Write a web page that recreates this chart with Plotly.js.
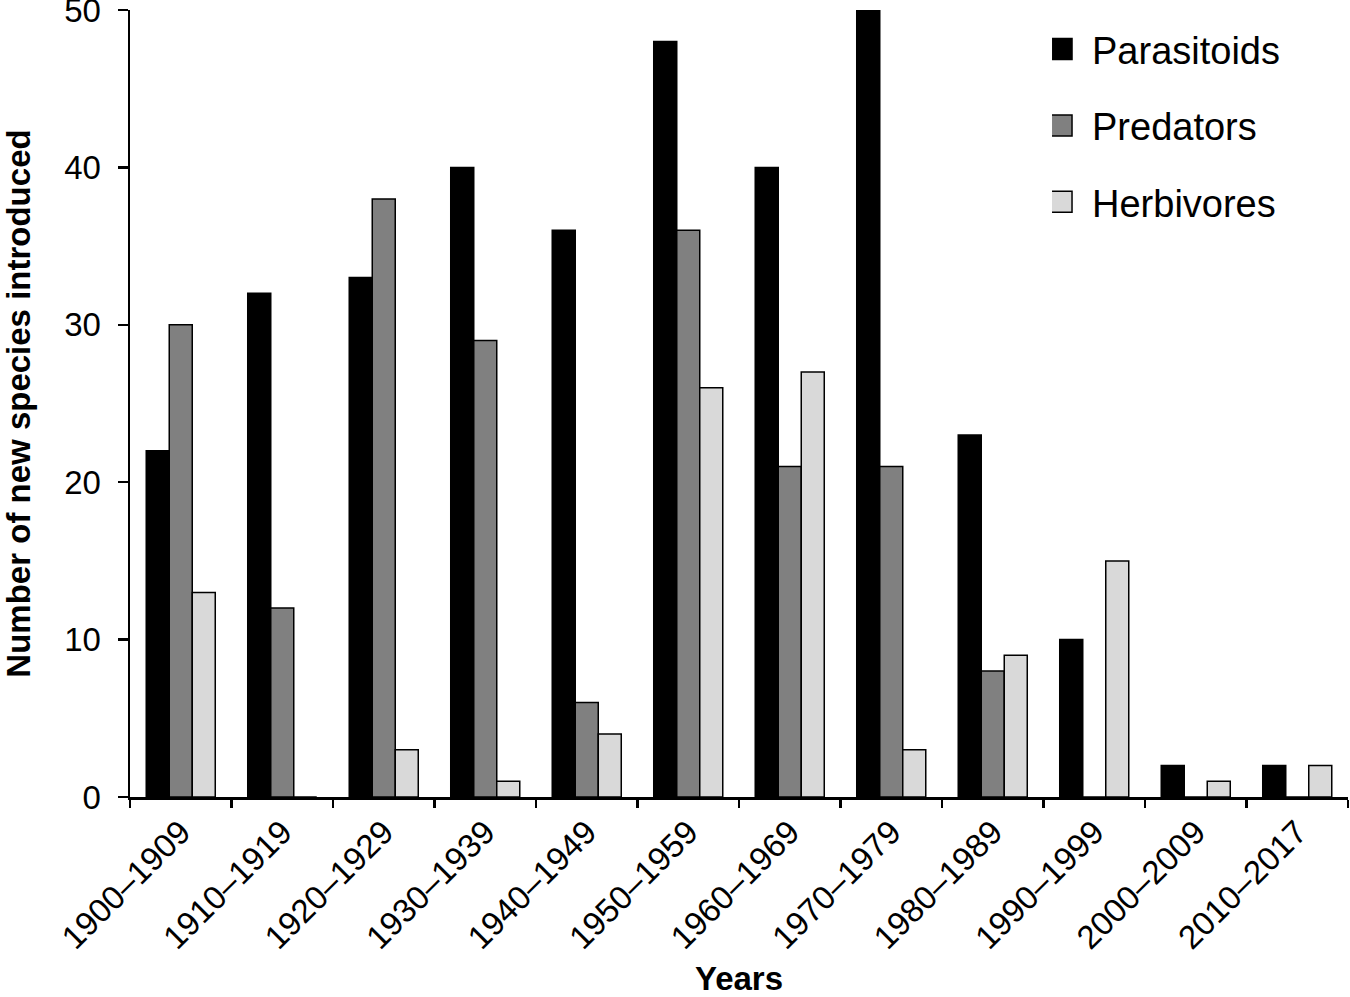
<!DOCTYPE html>
<html>
<head>
<meta charset="utf-8">
<script src="https://cdn.plot.ly/plotly-3.0.1.min.js"></script>
<style>html,body{margin:0;padding:0;background:#fff;}#chart{width:1350px;height:997px;}</style>
</head>
<body>
<div id="chart"></div>
<script>
const categories = ["1900–1909","1910–1919","1920–1929","1930–1939","1940–1949","1950–1959","1960–1969","1970–1979","1980–1989","1990–1999","2000–2009","2010–2017"];
const parasitoids = [22, 32, 33, 40, 36, 48, 40, 50, 23, 10, 2, 2];
const predators   = [30, 12, 38, 29, 6, 36, 21, 21, 8, 0, 0, 0];
const herbivores  = [13, 0, 3, 1, 4, 26, 27, 3, 9, 15, 1, 2];
const yTicks = [0, 10, 20, 30, 40, 50];

const FONT = "Liberation Sans, Arial, Helvetica, sans-serif";
const outline = {color: "#000", width: 1.5};

const traces = [
  {type: "bar", name: "Parasitoids", x: categories, y: parasitoids, legendgroup: "a",
   marker: {color: "#000000", line: outline}},
  {type: "bar", name: "Predators", x: categories, y: predators, legendgroup: "b",
   marker: {color: "#808080", line: outline}},
  {type: "bar", name: "Herbivores", x: categories, y: herbivores, legendgroup: "c",
   marker: {color: "#d9d9d9", line: outline}}
];

const layout = {
  width: 1350, height: 997,
  margin: {l: 130, r: 2, t: 10, b: 200, pad: 0},
  paper_bgcolor: "#fff", plot_bgcolor: "#fff",
  font: {family: FONT, color: "#000", size: 30},
  barmode: "group", bargap: 0.32, bargroupgap: 0,
  showlegend: true,
  legend: {
    x: 0.757, xanchor: "left", y: 0.99, yanchor: "top",
    font: {family: FONT, size: 38, color: "#000"},
    bgcolor: "rgba(0,0,0,0)", borderwidth: 0,
    traceorder: "grouped", tracegroupgap: 24, itemwidth: 30
  },
  xaxis: {
    type: "category", tickson: "boundaries",
    showline: true, linecolor: "#000", linewidth: 2.5,
    ticks: "outside", ticklen: 8, tickwidth: 2.5, tickcolor: "#000",
    tickangle: -45, tickfont: {family: FONT, size: 33, color: "#000"},
    showgrid: false, zeroline: false,
    title: {text: "<b>Years</b>", font: {family: FONT, size: 33, color: "#000"}, standoff: 26},
    automargin: false
  },
  yaxis: {
    range: [0, 50], tickvals: yTicks, ticktext: yTicks.map(String),
    showline: true, linecolor: "#000", linewidth: 2.5,
    ticks: "outside", ticklen: 10, tickwidth: 2.5, tickcolor: "#000",
    tickfont: {family: FONT, size: 33, color: "#000"},
    ticklabelstandoff: 10, ticklabeloverflow: "allow",
    showgrid: false, zeroline: false,
    title: {text: "<b>Number of new species introduced</b>", font: {family: FONT, size: 33, color: "#000"}, standoff: 46},
    automargin: false
  }
};

Plotly.newPlot("chart", traces, layout, {staticPlot: true}).then(function(gd){
  gd.querySelectorAll(".legendpoints path").forEach(function(p){
    p.setAttribute("d", "M0,10.5H-21V-10.5H0Z");
    p.style.strokeWidth = "1.5px";
  });
});
</script>
</body>
</html>
